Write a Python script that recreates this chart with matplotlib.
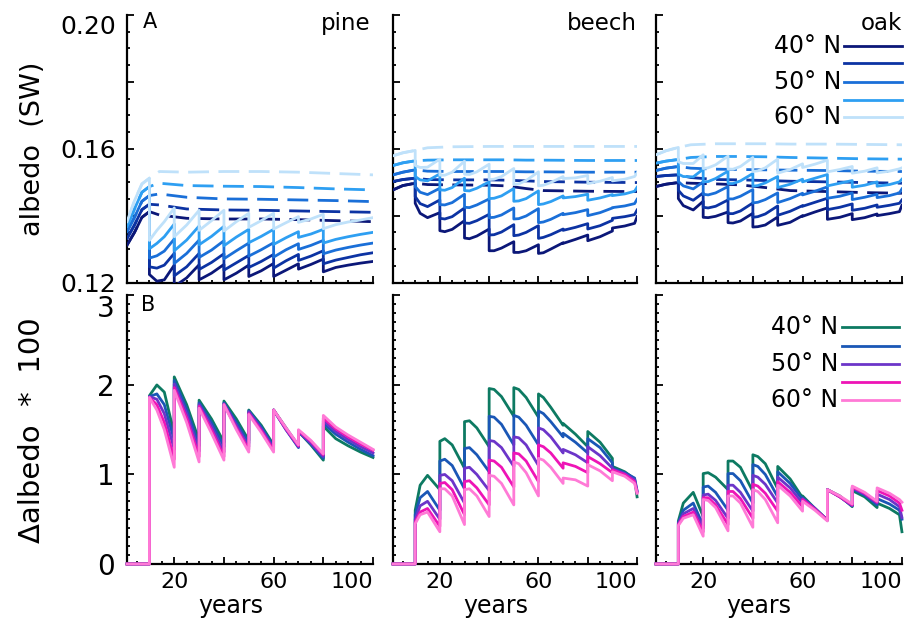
import matplotlib
matplotlib.use("Agg")
import matplotlib.pyplot as plt
from matplotlib.ticker import MultipleLocator

plt.rcParams['font.family'] = ['DejaVu Sans']

# ---- data ----
species = ['pine', 'beech', 'oak']
latitudes = ['40° N', '45° N', '50° N', '55° N', '60° N']
legend_labels = ['40° N', '', '50° N', '', '60° N']

# pine: thinning every 10 years from year 10 to 80
pine_years = [1, 4, 7, 10, 10, 13, 16, 20, 20, 25, 30, 30, 35, 40, 40, 45, 50, 50, 55,
              60, 60, 65, 70, 70, 75, 80, 80, 85, 90, 95, 100]
pine_managed = [
    [.1312, .1350, .1395, .1412, .1224, .1204, .1208, .1252, .1188, .1214, .1253, .1208, .1228, .1254, .1208, .1228,
     .1252, .1218, .1235, .1257, .1218, .1237, .1256, .1240, .1254, .1270, .1232, .1245, .1252, .1258, .1263],
    [.1332, .1372, .1418, .1434, .1247, .1243, .1252, .1287, .1220, .1247, .1287, .1239, .1260, .1286, .1237, .1259,
     .1281, .1245, .1263, .1284, .1243, .1265, .1284, .1266, .1279, .1295, .1256, .1267, .1275, .1283, .1289],
    [.1352, .1395, .1443, .1460, .1273, .1280, .1294, .1330, .1257, .1287, .1327, .1275, .1297, .1325, .1271, .1295,
     .1318, .1279, .1298, .1319, .1276, .1298, .1316, .1299, .1311, .1326, .1286, .1297, .1305, .1312, .1318],
    [.1367, .1420, .1470, .1487, .1301, .1317, .1337, .1375, .1295, .1327, .1369, .1313, .1338, .1368, .1310, .1336,
     .1359, .1319, .1338, .1359, .1314, .1334, .1352, .1335, .1345, .1359, .1318, .1329, .1337, .1344, .1350],
    [.1382, .1445, .1495, .1512, .1326, .1356, .1382, .1423, .1337, .1372, .1416, .1356, .1385, .1416, .1354, .1382,
     .1407, .1365, .1385, .1407, .1360, .1379, .1397, .1380, .1390, .1404, .1361, .1373, .1381, .1387, .1394],
]
pine_delta = [
    [0, 0, 0, 0, 1.88, 2.00, 1.92, 1.45, 2.09, 1.78, 1.38, 1.83, 1.62, 1.36, 1.82, 1.62,
     1.38, 1.72, 1.55, 1.33, 1.72, 1.52, 1.32, 1.48, 1.33, 1.16, 1.54, 1.40, 1.32, 1.25, 1.19],
    [0, 0, 0, 0, 1.87, 1.90, 1.78, 1.38, 2.05, 1.73, 1.32, 1.80, 1.58, 1.31, 1.80, 1.58,
     1.35, 1.71, 1.53, 1.31, 1.72, 1.50, 1.30, 1.48, 1.34, 1.18, 1.57, 1.45, 1.36, 1.28, 1.21],
    [0, 0, 0, 0, 1.87, 1.84, 1.68, 1.28, 2.01, 1.68, 1.26, 1.78, 1.54, 1.25, 1.79, 1.55,
     1.31, 1.70, 1.51, 1.29, 1.72, 1.50, 1.31, 1.48, 1.35, 1.20, 1.60, 1.48, 1.39, 1.31, 1.24],
    [0, 0, 0, 0, 1.86, 1.78, 1.58, 1.17, 1.97, 1.63, 1.20, 1.76, 1.50, 1.20, 1.78, 1.52,
     1.28, 1.68, 1.49, 1.27, 1.72, 1.51, 1.32, 1.49, 1.37, 1.22, 1.63, 1.51, 1.42, 1.34, 1.27],
    [0, 0, 0, 0, 1.86, 1.72, 1.50, 1.08, 1.94, 1.58, 1.14, 1.74, 1.46, 1.16, 1.78, 1.50,
     1.25, 1.67, 1.47, 1.25, 1.72, 1.52, 1.33, 1.50, 1.38, 1.23, 1.66, 1.53, 1.44, 1.36, 1.28],
]
pine_unmanaged_years = [1, 4, 7, 10, 14, 25, 40, 55, 70, 85, 100]
pine_unmanaged = [
    [.1312, .1350, .1395, .1412, .1402, .1392, .1390, .1390, .1388, .1385, .1382],
    [.1332, .1372, .1418, .1434, .1432, .1420, .1417, .1416, .1414, .1412, .1410],
    [.1352, .1395, .1443, .1460, .1465, .1455, .1450, .1449, .1447, .1445, .1442],
    [.1367, .1420, .1470, .1487, .1497, .1490, .1488, .1487, .1484, .1480, .1477],
    [.1382, .1445, .1495, .1512, .1532, .1530, .1532, .1532, .1530, .1526, .1522],
]

# beech: thinning every 10 years from year 10 to 90
beech_years = [1, 5, 10, 10, 12, 15, 20, 20, 22, 25, 30, 30, 32, 35, 40, 40, 42, 45, 50, 50, 52, 55,
               60, 60, 62, 65, 70, 70, 75, 80, 80, 85, 90, 90, 95, 99, 100]
beech_managed = [
    [.1477, .1490, .1497, .1437, .1407, .1394, .1409, .1355, .1352, .1359, .1385, .1333, .1331, .1339, .1360, .1295,
     .1295, .1303, .1322, .1290, .1290, .1295, .1313, .1287, .1289, .1300, .1319, .1317, .1329, .1342, .1325, .1337,
     .1354, .1363, .1369, .1377, .1397],
    [.1502, .1508, .1512, .1457, .1436, .1427, .1447, .1392, .1390, .1397, .1423, .1378, .1377, .1385, .1404, .1342,
     .1343, .1351, .1373, .1340, .1342, .1350, .1370, .1332, .1335, .1343, .1360, .1356, .1365, .1376, .1360, .1370,
     .1386, .1392, .1397, .1403, .1417],
    [.1522, .1530, .1537, .1487, .1470, .1463, .1482, .1433, .1432, .1439, .1464, .1425, .1424, .1432, .1450, .1394,
     .1395, .1402, .1423, .1390, .1391, .1399, .1421, .1379, .1381, .1389, .1407, .1403, .1409, .1418, .1400, .1409,
     .1423, .1424, .1429, .1436, .1449],
    [.1550, .1558, .1564, .1517, .1507, .1504, .1525, .1477, .1476, .1484, .1512, .1475, .1474, .1482, .1501, .1451,
     .1452, .1459, .1481, .1443, .1444, .1451, .1474, .1433, .1435, .1442, .1459, .1453, .1457, .1464, .1446, .1453,
     .1463, .1460, .1465, .1473, .1485],
    [.1579, .1588, .1595, .1550, .1544, .1545, .1569, .1521, .1521, .1530, .1563, .1524, .1523, .1531, .1554, .1508,
     .1509, .1517, .1541, .1493, .1495, .1505, .1531, .1489, .1491, .1499, .1517, .1511, .1513, .1520, .1496, .1503,
     .1514, .1504, .1509, .1517, .1528],
]
beech_delta = [
    [0, 0, 0, 0.60, 0.88, 0.99, 0.83, 1.37, 1.40, 1.33, 1.07, 1.59, 1.60, 1.52, 1.31, 1.96, 1.95, 1.87, 1.65,
     1.97, 1.95, 1.86, 1.64, 1.90, 1.86, 1.75, 1.55, 1.57, 1.45, 1.31, 1.48, 1.36, 1.18, 1.09, 1.03, 0.95, 0.75],
    [0, 0, 0, 0.55, 0.74, 0.81, 0.60, 1.15, 1.17, 1.10, 0.84, 1.29, 1.30, 1.22, 1.03, 1.65, 1.64, 1.56, 1.33,
     1.66, 1.64, 1.55, 1.33, 1.71, 1.68, 1.59, 1.42, 1.46, 1.36, 1.24, 1.40, 1.30, 1.13, 1.07, 1.02, 0.96, 0.82],
    [0, 0, 0, 0.50, 0.65, 0.70, 0.50, 0.99, 1.00, 0.93, 0.68, 1.07, 1.08, 1.00, 0.82, 1.38, 1.37, 1.30, 1.09,
     1.42, 1.41, 1.33, 1.10, 1.52, 1.50, 1.42, 1.24, 1.28, 1.22, 1.13, 1.31, 1.21, 1.07, 1.06, 1.01, 0.94, 0.81],
    [0, 0, 0, 0.47, 0.58, 0.62, 0.42, 0.90, 0.91, 0.83, 0.55, 0.92, 0.93, 0.85, 0.66, 1.16, 1.15, 1.08, 0.86,
     1.24, 1.23, 1.15, 0.92, 1.33, 1.31, 1.24, 1.07, 1.13, 1.09, 1.02, 1.20, 1.12, 1.02, 1.05, 1.00, 0.92, 0.80],
    [0, 0, 0, 0.45, 0.55, 0.58, 0.36, 0.84, 0.84, 0.76, 0.44, 0.83, 0.84, 0.76, 0.53, 0.99, 0.98, 0.90, 0.66,
     1.14, 1.12, 1.02, 0.76, 1.18, 1.16, 1.08, 0.90, 0.96, 0.94, 0.87, 1.11, 1.04, 0.93, 1.03, 0.98, 0.90, 0.79],
]
beech_unmanaged_years = [1, 5, 10, 15, 25, 40, 47, 55, 62, 80, 100]
beech_unmanaged = [
    [.1477, .1490, .1497, .1493, .1492, .1491, .1489, .1481, .1475, .1473, .1472],
    [.1502, .1508, .1512, .1508, .1507, .1507, .1506, .1504, .1502, .1500, .1499],
    [.1522, .1530, .1537, .1533, .1532, .1532, .1532, .1531, .1531, .1530, .1530],
    [.1550, .1558, .1564, .1566, .1567, .1567, .1567, .1566, .1566, .1565, .1565],
    [.1579, .1588, .1595, .1603, .1606, .1607, .1607, .1607, .1607, .1607, .1607],
]

# oak
oak_years = [1, 5, 10, 10, 12, 16, 20, 20, 22, 25, 30, 30, 32, 35, 40, 40, 42, 45, 50, 50, 55,
             60, 60, 65, 70, 70, 75, 80, 80, 85, 90, 90, 95, 99, 100]
oak_managed = [
    [.1487, .1494, .1499, .1451, .1430, .1417, .1443, .1395, .1394, .1398, .1411, .1379, .1378, .1384, .1407, .1366,
     .1367, .1372, .1396, .1371, .1380, .1400, .1398, .1411, .1423, .1389, .1395, .1406, .1388, .1394, .1405, .1400,
     .1406, .1412, .1431],
    [.1517, .1520, .1522, .1476, .1459, .1446, .1468, .1425, .1423, .1428, .1447, .1406, .1406, .1414, .1438, .1395,
     .1397, .1405, .1429, .1401, .1413, .1430, .1428, .1440, .1452, .1418, .1425, .1435, .1416, .1422, .1432, .1425,
     .1431, .1437, .1447],
    [.1535, .1542, .1547, .1502, .1489, .1480, .1501, .1464, .1462, .1468, .1487, .1450, .1450, .1458, .1478, .1438,
     .1440, .1448, .1468, .1439, .1451, .1467, .1462, .1473, .1486, .1452, .1458, .1468, .1448, .1455, .1464, .1454,
     .1460, .1468, .1480],
    [.1557, .1563, .1568, .1524, .1517, .1516, .1539, .1501, .1502, .1511, .1533, .1496, .1496, .1504, .1526, .1488,
     .1490, .1498, .1517, .1484, .1494, .1509, .1501, .1512, .1523, .1489, .1497, .1505, .1485, .1491, .1501, .1488,
     .1493, .1501, .1509],
    [.1582, .1594, .1604, .1561, .1556, .1556, .1582, .1541, .1543, .1552, .1578, .1539, .1539, .1547, .1574, .1532,
     .1534, .1543, .1569, .1527, .1538, .1555, .1544, .1554, .1566, .1531, .1538, .1547, .1527, .1533, .1543, .1528,
     .1533, .1540, .1543],
]
oak_delta = [
    [0, 0, 0, 0.48, 0.68, 0.80, 0.53, 1.01, 1.02, 0.97, 0.83, 1.15, 1.15, 1.08, 0.81, 1.22, 1.20, 1.12, 0.84,
     1.09, 0.95, 0.74, 0.76, 0.62, 0.49, 0.83, 0.76, 0.64, 0.82, 0.75, 0.63, 0.68, 0.62, 0.55, 0.36],
    [0, 0, 0, 0.46, 0.60, 0.68, 0.43, 0.86, 0.87, 0.80, 0.60, 1.01, 1.01, 0.93, 0.68, 1.11, 1.09, 1.00, 0.75,
     1.03, 0.90, 0.72, 0.74, 0.62, 0.49, 0.83, 0.75, 0.65, 0.84, 0.77, 0.66, 0.73, 0.67, 0.60, 0.50],
    [0, 0, 0, 0.45, 0.56, 0.62, 0.40, 0.77, 0.78, 0.71, 0.51, 0.88, 0.88, 0.80, 0.59, 0.99, 0.97, 0.89, 0.68,
     0.97, 0.85, 0.68, 0.73, 0.62, 0.49, 0.83, 0.75, 0.65, 0.85, 0.78, 0.68, 0.78, 0.72, 0.64, 0.52],
    [0, 0, 0, 0.44, 0.53, 0.58, 0.36, 0.74, 0.74, 0.66, 0.44, 0.81, 0.81, 0.73, 0.51, 0.89, 0.87, 0.79, 0.59,
     0.92, 0.80, 0.64, 0.72, 0.61, 0.49, 0.83, 0.75, 0.66, 0.86, 0.79, 0.69, 0.82, 0.76, 0.68, 0.60],
    [0, 0, 0, 0.43, 0.51, 0.55, 0.31, 0.72, 0.71, 0.63, 0.37, 0.76, 0.76, 0.68, 0.41, 0.83, 0.81, 0.72, 0.46,
     0.88, 0.76, 0.59, 0.70, 0.60, 0.48, 0.83, 0.76, 0.67, 0.87, 0.80, 0.70, 0.85, 0.79, 0.72, 0.69],
]
oak_unmanaged_years = [1, 5, 10, 15, 25, 35, 45, 55, 70, 85, 100]
oak_unmanaged = [
    [.1487, .1494, .1499, .1497, .1495, .1492, .1484, .1475, .1472, .1469, .1467],
    [.1517, .1520, .1522, .1514, .1508, .1507, .1505, .1503, .1501, .1499, .1497],
    [.1535, .1542, .1547, .1542, .1539, .1538, .1537, .1536, .1535, .1533, .1532],
    [.1557, .1563, .1568, .1574, .1577, .1577, .1576, .1574, .1572, .1570, .1569],
    [.1582, .1594, .1604, .1612, .1615, .1615, .1615, .1614, .1614, .1613, .1612],
]

years = [pine_years, beech_years, oak_years]
managed = [pine_managed, beech_managed, oak_managed]
delta = [pine_delta, beech_delta, oak_delta]
unmanaged_years = [pine_unmanaged_years, beech_unmanaged_years, oak_unmanaged_years]
unmanaged = [pine_unmanaged, beech_unmanaged, oak_unmanaged]

blues = ['#0b1778', '#0c33a3', '#1a6fd8', '#2e9ff2', '#bfe1fa']
pinks = ['#0d7a62', '#1a57b6', '#6c35c9', '#ee14b6', '#ff7ad6']
LW = 2.0

fig = plt.figure(figsize=(9.14, 6.19), dpi=100)

col_left = [0.1390, 0.4300, 0.7177]
col_width = [0.2691, 0.2670, 0.2691]
top_row = (0.5436, 0.4321)
bot_row = (0.0889, 0.4338)


def style(ax):
    for s in ['top', 'right']:
        ax.spines[s].set_visible(False)
    for s in ['left', 'bottom']:
        ax.spines[s].set_linewidth(1.6)
    ax.tick_params(which='both', direction='in', top=False, right=False, width=1.3, colors='black')
    ax.tick_params(which='major', length=5)
    ax.tick_params(which='minor', length=2.5)
    ax.set_xlim(1, 100)
    ax.xaxis.set_minor_locator(MultipleLocator(5))


for i, name in enumerate(species):
    # top row: albedo, managed (solid) vs unmanaged (dashed)
    ax = fig.add_axes([col_left[i], top_row[0], col_width[i], top_row[1]])
    style(ax)
    for k in range(5):
        ax.plot(unmanaged_years[i], unmanaged[i][k], color=blues[k], lw=LW,
                dashes=(7.5, 3.4), zorder=2)
    for k in range(5):
        ax.plot(years[i], managed[i][k], color=blues[k], lw=LW, zorder=3)
    ax.set_ylim(0.12, 0.20)
    ax.set_xticks([20, 40, 60, 80, 100])
    ax.tick_params(axis='x', labelbottom=False)
    ax.yaxis.set_minor_locator(MultipleLocator(0.005))
    if i == 0:
        ax.set_yticks([0.12, 0.14, 0.16, 0.18, 0.20], ['0.12', '', '0.16', '', '0.20'])
        ax.tick_params(axis='y', labelsize=18, pad=8)
        ax.get_yticklabels()[-1].set_va('top')
        ax.set_ylabel('albedo  (SW)', fontsize=19.5)
        ax.yaxis.set_label_coords(-0.33, 0.5)
        ax.text(0.065, 1.012, 'A', transform=ax.transAxes, ha='left', va='top', fontsize=15)
    else:
        ax.set_yticks([0.12, 0.14, 0.16, 0.18, 0.20])
        ax.tick_params(axis='y', labelleft=False)
    ax.text(1.0 if i else 0.99, 1.01, name, transform=ax.transAxes, ha='right', va='top', fontsize=16.5)

    if i == 2:
        leg_y = [0.884, 0.819, 0.750, 0.682, 0.617]
        for k in range(5):
            ax.plot([0.764, 1.0], [leg_y[k], leg_y[k]], color=blues[k], lw=LW,
                    transform=ax.transAxes, clip_on=False)
            if legend_labels[k]:
                ax.text(0.752, leg_y[k], legend_labels[k], transform=ax.transAxes,
                        ha='right', va='center', fontsize=17)

    # bottom row: delta albedo * 100
    bx = fig.add_axes([col_left[i], bot_row[0], col_width[i], bot_row[1]])
    style(bx)
    for k in range(5):
        bx.plot(years[i], delta[i][k], color=pinks[k], lw=LW, zorder=3, clip_on=False)
    bx.set_ylim(0, 3)
    bx.yaxis.set_minor_locator(MultipleLocator(0.1))
    bx.set_xticks([20, 40, 60, 80, 100], ['20', '', '60', '', '100'])
    bx.tick_params(axis='x', labelsize=16, pad=6)
    bx.get_xticklabels()[-1].set_ha('right')
    bx.set_xlabel('years', fontsize=17, va='top')
    bx.xaxis.set_label_coords(0.42, -0.112)
    if i == 0:
        bx.set_yticks([0, 1, 2, 3], ['0', '1', '2', '3'])
        bx.tick_params(axis='y', labelsize=20, pad=9)
        bx.get_yticklabels()[-1].set_va('top')
        bx.set_ylabel('Δalbedo  *  100', fontsize=21)
        bx.yaxis.set_label_coords(-0.33, 0.5)
        bx.text(0.058, 1.0, 'B', transform=bx.transAxes, ha='left', va='top', fontsize=15)
    else:
        bx.set_yticks([0, 1, 2, 3])
        bx.tick_params(axis='y', labelleft=False)

    if i == 2:
        leg_y = [0.882, 0.812, 0.745, 0.676, 0.609]
        for k in range(5):
            bx.plot([0.755, 0.989], [leg_y[k], leg_y[k]], color=pinks[k], lw=LW,
                    transform=bx.transAxes, clip_on=False)
            if legend_labels[k]:
                bx.text(0.74, leg_y[k], legend_labels[k], transform=bx.transAxes,
                        ha='right', va='center', fontsize=17)

fig.savefig('out.png', dpi=100)
